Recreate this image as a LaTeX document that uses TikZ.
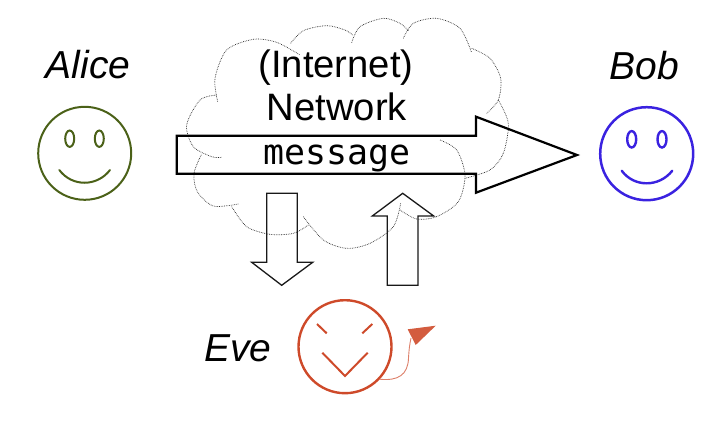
\documentclass[tikz,border=0pt]{standalone}
\usepackage{fontspec}
\setmainfont{Liberation Sans}
\newfontfamily\msgfont{DejaVu Sans Mono}
\definecolor{alicecol}{HTML}{4B6118}
\definecolor{bobcol}{HTML}{3A22E0}
\definecolor{evecol}{HTML}{CE4A2A}
\tikzset{
  lobe/.style={draw=black!85,line width=0.7pt,densely dotted},
  bigarrow/.style={draw=black,line width=2.2pt,miter limit=10},
  smallarrow/.style={draw=black!90,line width=1.3pt,line join=miter},
  name label/.style={font=\fontsize{39}{40}\selectfont\itshape,anchor=base,inner sep=0pt},
  cloud label/.style={font=\fontsize{38.2}{40}\selectfont,anchor=base,inner sep=0pt},
  msg label/.style={font=\fontsize{34.9}{36}\selectfont\msgfont,anchor=base,inner sep=0pt},
  face/.style={circle,draw,inner sep=0pt,minimum size=93pt}
}
\begin{document}
\begin{tikzpicture}[x=1pt,y=-1pt]
\useasboundingbox (0,0) rectangle (714,420);
% cloud
\begin{scope}[shift={(170,0)},x=0.33333pt,y=-0.33333pt]
\draw[lobe] plot[smooth] coordinates {(143,305) (135,235) (170,150) (250,118) (320,127) (390,165)};
\draw[lobe] plot[smooth] coordinates {(362,130) (400,92) (470,77) (525,90) (548,105)};
\draw[lobe] plot[smooth] coordinates {(545,128) (570,80) (640,55) (690,70) (715,92)};
\draw[lobe] plot[smooth] coordinates {(700,115) (730,70) (800,55) (870,85) (905,158)};
\draw[lobe] plot[smooth] coordinates {(905,145) (960,175) (992,235) (985,300) (950,340)};
\draw[lobe] plot[smooth] coordinates {(985,300) (1015,370) (1000,460) (960,510) (885,535)};
\draw[lobe] plot[smooth] coordinates {(810,420) (860,450) (885,525) (865,605) (800,650) (740,657) (690,630)};
\draw[lobe] plot[smooth] coordinates {(692,610) (670,680) (600,730) (530,745) (460,720) (400,650)};
\draw[lobe] plot[smooth] coordinates {(415,675) (370,700) (300,703) (230,680) (185,620)};
\draw[lobe] plot[smooth] coordinates {(205,612) (130,618) (82,575) (72,520) (95,462)};
\draw[lobe] plot[smooth] coordinates {(140,285) (90,300) (50,375) (70,440) (125,470) (155,472)};
\end{scope}
% labels
\node[cloud label] (internet) at (336,77.5) {(Internet)};
\node[cloud label] (network) at (337,120.7) {Network};
\node[msg label] (message) at (336.7,164) {message};
\node[name label] (alicelabel) at (88,78) {Alice};
\node[name label] (boblabel) at (644,79) {Bob};
\node[name label] (evelabel) at (238,361.7) {Eve};
% big arrow
\draw[bigarrow] (176.7,135.7) -- (476,135.7) -- (476,116.7) -- (577,155) -- (476,192.7) -- (476,173.7) -- (176.7,173.7) -- cycle;
% small arrows
\draw[smallarrow] (266.7,193.3) -- (297.3,193.3) -- (297.3,262.3) -- (312.7,262.3) -- (281.7,285.3) -- (251.7,262.3) -- (266.7,262.3) -- cycle;
\draw[smallarrow] (387.3,285.3) -- (418,285.3) -- (418,216) -- (433.7,216) -- (402.7,193.3) -- (372.3,216) -- (387.3,216) -- cycle;
% Alice
\node[face,draw=alicecol,line width=2pt] (alice) at (84.7,153.3) {};
\begin{scope}[alicecol,line width=2pt]
\draw (69.7,138.7) ellipse [x radius=4.5pt,y radius=8.2pt];
\draw (99.3,138.7) ellipse [x radius=4.5pt,y radius=8.2pt];
\draw[line cap=round] (59.3,170) .. controls (72,187) and (97,187) .. (110,170);
\end{scope}
% Bob
\node[face,draw=bobcol,line width=2.5pt] (bob) at (646.7,153.7) {};
\begin{scope}[bobcol,line width=2.4pt]
\draw (631.7,139.3) ellipse [x radius=4.5pt,y radius=8.2pt];
\draw (662,139.3) ellipse [x radius=4.5pt,y radius=8.2pt];
\draw[line cap=round] (621.7,170.7) .. controls (634,187.5) and (659,187.5) .. (672.3,170.7);
\end{scope}
% Eve
\node[face,draw=evecol,line width=2.4pt] (eve) at (345,346.7) {};
\begin{scope}[evecol,line width=2pt]
\draw (317,324) -- (326.7,333.3);
\draw (372.3,324) -- (362.3,333.3);
\draw (322.3,352.7) -- (345,376) -- (367.7,352.7);
\end{scope}
\draw[evecol!70,line width=0.9pt] (eve.-43) .. controls (398,381) and (408,375) .. (408.5,358) .. controls (409,350) and (409.5,345) .. (411,338);
\fill[evecol!90!white] (407.7,329.3) -- (435.7,325.7) -- (415.7,345) -- cycle;
\end{tikzpicture}
\end{document}
